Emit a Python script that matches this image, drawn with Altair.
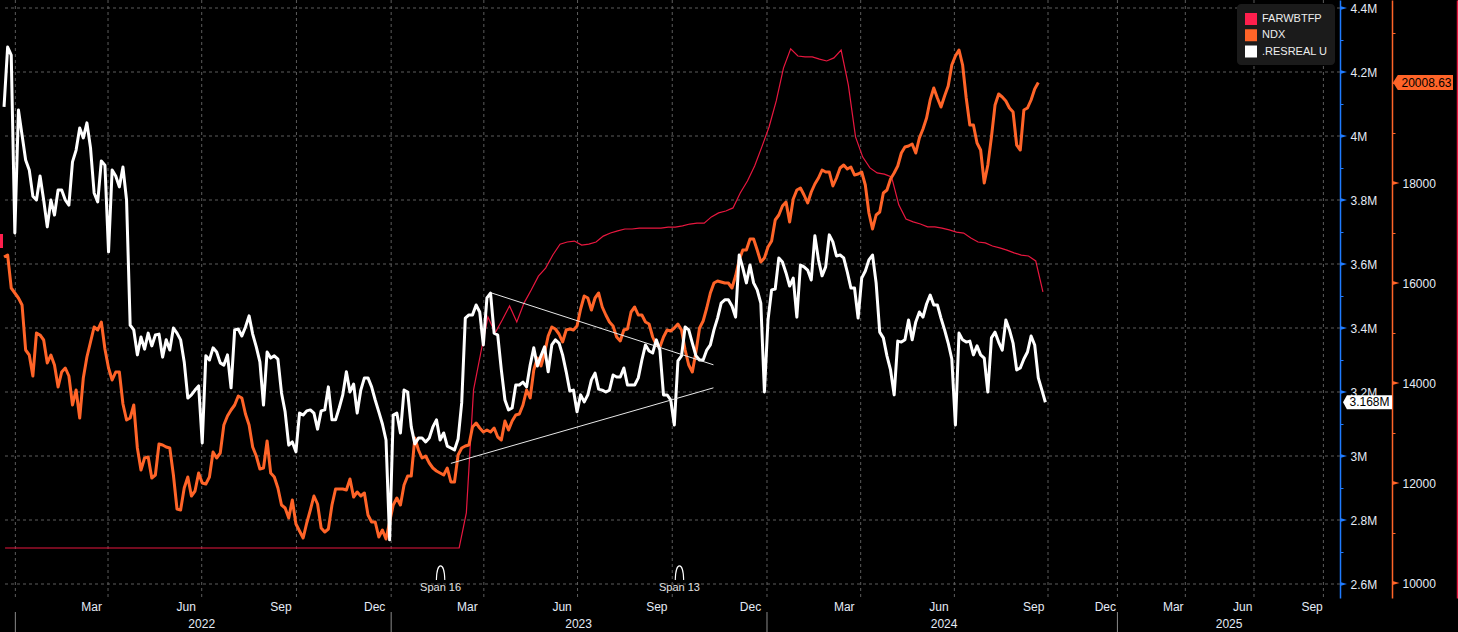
import altair as alt
import pandas as pd

# ---------------- data ----------------
series_names = ["FARWBTFP", "NDX", ".RESREAL U"]
series_colors = ["#ff1f4d", "#ff6428", "#ffffff"]

# .RESREAL U (shown in "M"), half-weekly samples from 2021-12-21
resreal = [
    4.091, 4.278, 4.253, 3.697, 4.081, 4.003, 3.925, 3.894, 3.812, 3.800,
    3.875, 3.800, 3.716, 3.800, 3.753, 3.831, 3.831, 3.800, 3.784, 3.919,
    3.956, 4.025, 3.994, 4.041, 3.963, 3.822, 3.794, 3.922, 3.909, 3.638,
    3.894, 3.875, 3.841, 3.903, 3.800, 3.409, 3.394, 3.316, 3.372, 3.334,
    3.384, 3.344, 3.378, 3.381, 3.309, 3.363, 3.331, 3.400, 3.384, 3.363,
    3.294, 3.181, 3.191, 3.206, 3.219, 3.041, 3.313, 3.300, 3.338, 3.325,
    3.291, 3.284, 3.316, 3.213, 3.394, 3.397, 3.375, 3.403, 3.438, 3.381,
    3.341, 3.294, 3.159, 3.325, 3.306, 3.313, 3.303, 3.197, 3.138, 3.034,
    3.044, 3.013, 3.134, 3.128, 3.141, 3.144, 3.134, 3.084, 3.141, 3.144,
    3.216, 3.113, 3.113, 3.150, 3.191, 3.263, 3.200, 3.225, 3.134, 3.206,
    3.244, 3.244, 3.216, 3.175, 3.138, 3.100, 3.050, 2.738, 3.128, 3.134,
    3.072, 3.206, 3.200, 3.091, 3.038, 3.056, 3.056, 3.044, 3.056, 3.091,
    3.113, 3.050, 3.072, 3.031, 3.025, 3.019, 3.053, 3.166, 3.431, 3.441,
    3.441, 3.472, 3.450, 3.347, 3.494, 3.509, 3.384, 3.378, 3.269, 3.175,
    3.144, 3.150, 3.222, 3.222, 3.231, 3.216, 3.284, 3.338, 3.281, 3.313,
    3.341, 3.263, 3.347, 3.363, 3.353, 3.316, 3.263, 3.203, 3.206, 3.138,
    3.191, 3.169, 3.191, 3.238, 3.259, 3.209, 3.206, 3.200, 3.206, 3.253,
    3.247, 3.247, 3.275, 3.222, 3.222, 3.222, 3.244, 3.300, 3.347, 3.328,
    3.322, 3.363, 3.331, 3.191, 3.191, 3.175, 3.097, 3.297, 3.313, 3.403,
    3.394, 3.353, 3.313, 3.300, 3.300, 3.331, 3.347, 3.394, 3.431, 3.478,
    3.488, 3.488, 3.469, 3.434, 3.628, 3.588, 3.541, 3.597, 3.541, 3.519,
    3.478, 3.200, 3.425, 3.519, 3.522, 3.619, 3.606, 3.572, 3.531, 3.556,
    3.434, 3.597, 3.591, 3.581, 3.550, 3.688, 3.613, 3.563, 3.591, 3.691,
    3.669, 3.625, 3.628, 3.619, 3.575, 3.525, 3.525, 3.431, 3.556, 3.578,
    3.613, 3.628, 3.541, 3.387, 3.369, 3.313, 3.269, 3.191, 3.359, 3.356,
    3.363, 3.425, 3.363, 3.419, 3.450, 3.434, 3.475, 3.503, 3.472, 3.472,
    3.431, 3.394, 3.353, 3.303, 3.097, 3.384, 3.363, 3.356, 3.359, 3.316,
    3.344, 3.316, 3.306, 3.200, 3.369, 3.387, 3.356, 3.331, 3.425, 3.394,
    3.353, 3.269, 3.275, 3.303, 3.325, 3.375, 3.347, 3.244, 3.206, 3.168,
]

# NDX, half-weekly samples from 2021-12-21
ndx = [
    16520, 16560, 15900, 15800, 15700, 15560, 14660, 14560, 14140, 15000,
    14960, 14860, 14400, 14560, 14360, 13920, 14220, 14300, 14140, 13560,
    13860, 13300, 14100, 14520, 14820, 15120, 15060, 15220, 14680, 14300,
    14060, 14220, 14220, 13580, 13260, 13300, 13560, 12700, 12260, 12500,
    12520, 12100, 12160, 12780, 12760, 12720, 12700, 12160, 11480, 11460,
    11900, 12120, 11740, 11840, 12200, 12000, 11980, 12120, 12620, 12500,
    12600, 13160, 13340, 13460, 13560, 13740, 13700, 13380, 13160, 12720,
    12540, 12280, 12300, 12840, 12200, 12120, 11900, 11560, 11500, 11300,
    11660, 11180, 11040, 10900, 11200, 11460, 11740, 11580, 11100, 11020,
    11080, 11560, 11880, 11880, 11880, 11860, 12080, 11720, 11820, 11740,
    11800, 11360, 11220, 11220, 10920, 11060, 10880, 11220, 11560, 11700,
    11560, 11960, 12140, 12140, 12900, 12660, 12500, 12540, 12400, 12300,
    12240, 12200, 12160, 12300, 12020, 12020, 12560, 12700, 12740, 12760,
    13120, 13200, 13100, 13020, 13060, 13020, 13100, 12920, 12860, 13240,
    13060, 13240, 13360, 13380, 13560, 13860, 13700, 14260, 14500, 14340,
    14600, 14940, 15120, 15080, 14980, 14820, 15060, 15080, 15060, 15140,
    15480, 15740, 15700, 15460, 15700, 15800, 15520, 15360, 15220, 15140,
    14920, 14840, 15060, 15080, 15420, 15520, 15360, 15360, 15220, 15180,
    14920, 14760, 14720, 14920, 15060, 15040, 15100, 15180, 15060, 14660,
    14360, 14220, 14620, 15100, 15240, 15500, 15800, 16000, 16040, 16020,
    16000, 16000, 15900, 16140, 16460, 16660, 16660, 16880, 16880, 16660,
    16420, 16500, 16720, 16840, 17260, 17360, 17540, 17620, 17220, 17680,
    17860, 17900, 17760, 17600, 17820, 17980, 18100, 18260, 18220, 18220,
    17940, 18100, 18300, 18360, 18280, 18320, 18160, 18180, 18220, 17960,
    17400, 17080, 17360, 17420, 17800, 17860, 18080, 18200, 18340, 18600,
    18720, 18740, 18780, 18600, 18900, 19080, 19300, 19660, 19900, 19700,
    19520, 19740, 19940, 20360, 20540, 20660, 20360, 19700, 19160, 19160,
    18800, 18660, 18000, 18360, 18920, 19560, 19780, 19720, 19640, 19500,
    19420, 18760, 18660, 19460, 19500, 19660, 19880, 20008.63,
]

# FARWBTFP ($bn), weekly from 2021-12-22
btfp = [
    0, 0, 0, 0, 0, 0, 0, 0, 0, 0,
    0, 0, 0, 0, 0, 0, 0, 0, 0, 0,
    0, 0, 0, 0, 0, 0, 0, 0, 0, 0,
    0, 0, 0, 0, 0, 0, 0, 0, 0, 0,
    0, 0, 0, 0, 0, 0, 0, 0, 0, 0,
    0, 0, 0, 0, 0, 0, 0, 0, 0, 0,
    0, 0, 0, 0,
    11.3, 51.0, 62.9, 74.5, 69.4, 73.6, 78.1, 72.9, 79.0, 83.2,
    87.7, 90.3, 94.5, 98.0, 98.7, 99.0, 97.7, 98.0, 98.7, 100.6,
    101.6, 102.3, 102.9, 102.9, 103.2, 103.2, 103.2, 103.2, 103.5, 103.5,
    103.9, 104.5, 104.8, 104.8, 106.8, 108.1, 108.7, 109.7, 114.5, 118.4,
    123.2, 129.4, 135.8, 144.2, 154.8, 161.0, 158.7, 158.4, 158.4, 157.7,
    157.1, 158.1, 160.6, 149.4, 132.6, 126.1, 122.6, 121.0, 120.6, 119.7,
    110.7, 106.1, 105.2, 104.5, 103.6, 103.6, 103.2, 102.6, 101.9, 101.6,
    100.0, 98.7, 98.4, 97.4, 96.8, 96.1, 95.2, 94.5, 94.2, 92.6, 82.6,
]

# hand-drawn triangle (on the .RESREAL U scale)
trend_seg = ["upper", "upper", "lower", "lower"]
trend_dates = ["2023-04-08", "2023-11-10", "2023-02-28", "2023-11-10"]
trend_vals = [3.510, 3.285, 2.977, 3.213]

span_dates = ["2023-02-18", "2023-10-08"]
span_labels = ["Span 16", "Span 13"]

blue_major = [2.6, 2.8, 3.0, 3.2, 3.4, 3.6, 3.8, 4.0, 4.2, 4.4]
blue_all = [round(2.6 + 0.1 * i, 1) for i in range(19)]
ndx_major = [10000, 12000, 14000, 16000, 18000]
ndx_all = list(range(10000, 22000, 1000))
btfp_ticks = [-10, 10, 30, 50, 70, 90, 110, 130, 150, 170]

month_label_dates = [f"{y}-{m:02d}-16" for y in range(2022, 2026) for m in (3, 6, 9, 12)
                     if not (y == 2025 and m == 12)]
month_names = {3: "Mar", 6: "Jun", 9: "Sep", 12: "Dec"}
month_labels = [month_names[int(d[5:7])] for d in month_label_dates]
year_label_dates = ["2022-07-01", "2023-07-02", "2024-06-21", "2025-05-29"]
year_labels = ["2022", "2023", "2024", "2025"]
year_starts = ["2022-01-01", "2023-01-01", "2024-01-01", "2025-01-01"]
quarter_starts = [f"{y}-{m:02d}-01" for y in range(2022, 2026) for m in (1, 4, 7, 10)]
month_starts = [f"{y}-{m:02d}-01" for y in range(2022, 2026) for m in range(1, 13)
                if not (y == 2025 and m > 10)]

# ---------------- time axis (Bloomberg-style: future part compressed) ----------------
ORIGIN = "2021-12-20"
BREAK_DAYS = 1012          # 2024-09-27: end of history
FUTURE_K = 0.7328          # compression of the future part
END_DATE = "2025-10-23"


def axis_days(d):
    t = (pd.Timestamp(d) - pd.Timestamp(ORIGIN)).days
    return t if t <= BREAK_DAYS else BREAK_DAYS + (t - BREAK_DAYS) * FUTURE_K


XMAX = axis_days(END_DATE)
T_EXPR = f"(time(toDate(datum.date)) - time(toDate('{ORIGIN}T00:00:00'))) / 86400000"
XT_EXPR = f"datum.t <= {BREAK_DAYS} ? datum.t : {BREAK_DAYS} + (datum.t - {BREAK_DAYS}) * {FUTURE_K}"


def iso(dates):
    return [pd.Timestamp(d).strftime("%Y-%m-%dT%H:%M:%S") for d in dates]


# ---------------- frames ----------------
half_week = pd.Timedelta(hours=84)
df_white = pd.DataFrame({"date": iso(pd.date_range("2021-12-21", periods=len(resreal), freq=half_week)),
                         "v": resreal})
df_ndx = pd.DataFrame({"date": iso(pd.date_range("2021-12-21", periods=len(ndx), freq=half_week)),
                       "v": ndx})
df_btfp = pd.DataFrame({"date": iso(pd.date_range("2021-12-22", periods=len(btfp), freq="7D")),
                        "v": btfp})
df_trend = pd.DataFrame({"date": iso(trend_dates), "v": trend_vals, "seg": trend_seg})
df_span = pd.DataFrame({"date": iso(span_dates), "label": span_labels})
df_q = pd.DataFrame({"date": iso(quarter_starts)})
df_years = pd.DataFrame({"date": iso(year_starts)})
df_mlab = pd.DataFrame({"date": iso(month_label_dates), "label": month_labels})
df_ylab = pd.DataFrame({"date": iso(year_label_dates), "label": year_labels})
df_bmaj = pd.DataFrame({"v": blue_major})
df_nmaj = pd.DataFrame({"v": ndx_major})
df_wlast = pd.DataFrame({"v": [resreal[-1]], "label": [f"{resreal[-1]:.3f}M"]})
df_nlast = pd.DataFrame({"v": [ndx[-1]], "label": [f"{ndx[-1]:.2f}"]})
one = pd.DataFrame({"a": [0]})

# ---------------- styling ----------------
W, H = 1337, 598
FONT = "Liberation Sans"
BLUE = "#1f7bff"
ORANGE = "#ff6428"
RED = "#e8173f"
GRID = "#5c5c5c"
LABEL = "#e4ebf6"

x_scale = alt.Scale(domain=[0, XMAX], nice=False, zero=False)


def dated(df):
    return alt.Chart(df).transform_calculate(t=T_EXPR).transform_calculate(xt=XT_EXPR)


def X(axis=None):
    return alt.X("xt:Q", scale=x_scale, axis=axis)


def blue_scale():
    return alt.Scale(domain=[2.55625, 4.425], nice=False, zero=False)


def ndx_scale():
    return alt.Scale(domain=[9700, 21660], nice=False, zero=False)


def btfp_scale():
    return alt.Scale(domain=[-16.13, 176.77], nice=False, zero=False)


x_axis = alt.Axis(values=[axis_days(d) for d in month_starts], labels=False, ticks=True, tickSize=5,
                  tickColor="#ffffff", tickWidth=1, domainColor="#ffffff", domainWidth=1.5,
                  grid=False, title=None, orient="bottom")
blue_axis = alt.Axis(orient="right", values=blue_all,
                     labelExpr="(round(datum.value*10) % 2 == 0) ? format(datum.value, '~g') + 'M' : ''",
                     tickSize=3, tickColor=BLUE, domainColor=BLUE, domainWidth=1.5,
                     labelColor=LABEL, labelFont=FONT, labelFontSize=12, labelPadding=7,
                     labelOverlap=False, labelFlush=False, grid=False, title=None)
ndx_axis = alt.Axis(orient="right", offset=52, values=ndx_all,
                    labelExpr="(datum.value % 2000 == 0 && datum.value < 20000) ? format(datum.value, 'd') : ''",
                    tickSize=3, tickColor=ORANGE, domainColor=ORANGE, domainWidth=1.5,
                    labelColor=LABEL, labelFont=FONT, labelFontSize=12, labelPadding=7,
                    labelOverlap=False, labelFlush=False, grid=False, title=None)
btfp_axis = alt.Axis(orient="right", offset=117, values=btfp_ticks, labels=False,
                     tickSize=2, tickColor=RED, domainColor=RED, domainWidth=1.5,
                     grid=False, title=None)

ARROW = "M -1 -0.6 L 1 0 L -1 0.6 Z"
TAG_W = "M -1 0 L -0.84 -0.29 L 1 -0.29 L 1 0.29 L -0.84 0.29 Z"
TAG_O = "M -1 0 L -0.84 -0.25 L 1 -0.25 L 1 0.25 L -0.84 0.25 Z"
ARCH = "M -0.6 1 C -0.55 -1.7 0.55 -1.7 0.6 1"

layers = []

# grid + x axis
layers.append(dated(df_q).mark_rule(color=GRID, strokeDash=[3, 3], strokeWidth=1)
              .encode(x=X(x_axis)))
layers.append(alt.Chart(df_bmaj).mark_rule(color=GRID, strokeDash=[3, 3], strokeWidth=1)
              .encode(y=alt.Y("v:Q", scale=blue_scale(), axis=blue_axis)))

# series lines
layers.append(dated(df_btfp).mark_line(color=RED, strokeWidth=1.2)
              .encode(x=X(), y=alt.Y("v:Q", scale=btfp_scale(), axis=btfp_axis)))
layers.append(dated(df_ndx).mark_line(color=ORANGE, strokeWidth=3, strokeJoin="round")
              .encode(x=X(), y=alt.Y("v:Q", scale=ndx_scale(), axis=ndx_axis)))
layers.append(dated(df_white).mark_line(color="#ffffff", strokeWidth=3, strokeJoin="round")
              .encode(x=X(), y=alt.Y("v:Q", scale=blue_scale(), axis=None)))
layers.append(dated(df_trend).mark_line(color="#e8e8e8", strokeWidth=1)
              .encode(x=X(), y=alt.Y("v:Q", scale=blue_scale(), axis=None), detail="seg:N"))

# axis arrows
layers.append(alt.Chart(df_bmaj).mark_point(shape=ARROW, filled=True, color=BLUE, size=49, opacity=1)
              .encode(x=alt.value(W + 3.5), y=alt.Y("v:Q", scale=blue_scale(), axis=None)))
layers.append(alt.Chart(df_nmaj).mark_point(shape=ARROW, filled=True, color=ORANGE, size=49, opacity=1)
              .encode(x=alt.value(W + 56), y=alt.Y("v:Q", scale=ndx_scale(), axis=None)))

# last value tags
layers.append(alt.Chart(df_wlast).mark_point(shape=TAG_W, filled=True, color="#ffffff", size=2401, opacity=1)
              .encode(x=alt.value(W + 27.5), y=alt.Y("v:Q", scale=blue_scale(), axis=None)))
layers.append(alt.Chart(df_wlast).mark_text(color="#000000", font=FONT, fontSize=12, align="center",
                                             baseline="middle")
              .encode(x=alt.value(W + 29.5), y=alt.Y("v:Q", scale=blue_scale(), axis=None), text="label:N"))
layers.append(alt.Chart(df_nlast).mark_point(shape=TAG_O, filled=True, color=ORANGE, size=3600, opacity=1)
              .encode(x=alt.value(W + 83), y=alt.Y("v:Q", scale=ndx_scale(), axis=None)))
layers.append(alt.Chart(df_nlast).mark_text(color="#000000", font=FONT, fontSize=12, align="center",
                                             baseline="middle")
              .encode(x=alt.value(W + 86.5), y=alt.Y("v:Q", scale=ndx_scale(), axis=None), text="label:N"))

# span annotations
layers.append(dated(df_span).mark_point(shape=ARCH, filled=False, color="#ffffff", strokeWidth=1.1,
                                         size=196, opacity=1)
              .encode(x=X(), y=alt.value(573)))
layers.append(dated(df_span).mark_text(color="#e0e0e0", font=FONT, fontSize=11, baseline="middle")
              .encode(x=X(), y=alt.value(588), text="label:N"))

# x labels
layers.append(dated(df_mlab).mark_text(color=LABEL, font=FONT, fontSize=12, baseline="middle")
              .encode(x=X(), y=alt.value(H + 9), text="label:N"))
layers.append(dated(df_ylab).mark_text(color=LABEL, font=FONT, fontSize=12, baseline="middle")
              .encode(x=X(), y=alt.value(H + 26), text="label:N"))
layers.append(dated(df_years).mark_rule(color="#8a8a8a", strokeWidth=1)
              .encode(x=X(), y=alt.value(H + 14), y2=alt.value(H + 34)))

# small red marker at the left edge
layers.append(alt.Chart(one).mark_rect(color=series_colors[0])
              .encode(x=alt.value(-3), x2=alt.value(0), y=alt.value(234), y2=alt.value(248)))

# legend
layers.append(alt.Chart(one).mark_rect(color="#1b1b1b", cornerRadius=4)
              .encode(x=alt.value(1234), x2=alt.value(1332), y=alt.value(4), y2=alt.value(65)))
for i, (name, col) in enumerate(zip(series_names, series_colors)):
    yc = 19 + 16.25 * i
    layers.append(alt.Chart(one).mark_rect(color=col)
                  .encode(x=alt.value(1242), x2=alt.value(1254), y=alt.value(yc - 6), y2=alt.value(yc + 6)))
    layers.append(alt.Chart(one).mark_text(color="#ededed", font=FONT, fontSize=11, align="left",
                                           baseline="middle")
                  .encode(x=alt.value(1259), y=alt.value(yc), text=alt.value(name)))

chart = (alt.layer(*layers)
         .resolve_scale(y="independent")
         .properties(width=W, height=H,
                     padding={"left": 3, "top": 0, "right": 118, "bottom": 34},
                     autosize=alt.AutoSizeParams(type="none"),
                     background="#000000")
         .configure_view(strokeWidth=0))

chart.save("out.html", embed_options={"renderer": "svg", "actions": False})
